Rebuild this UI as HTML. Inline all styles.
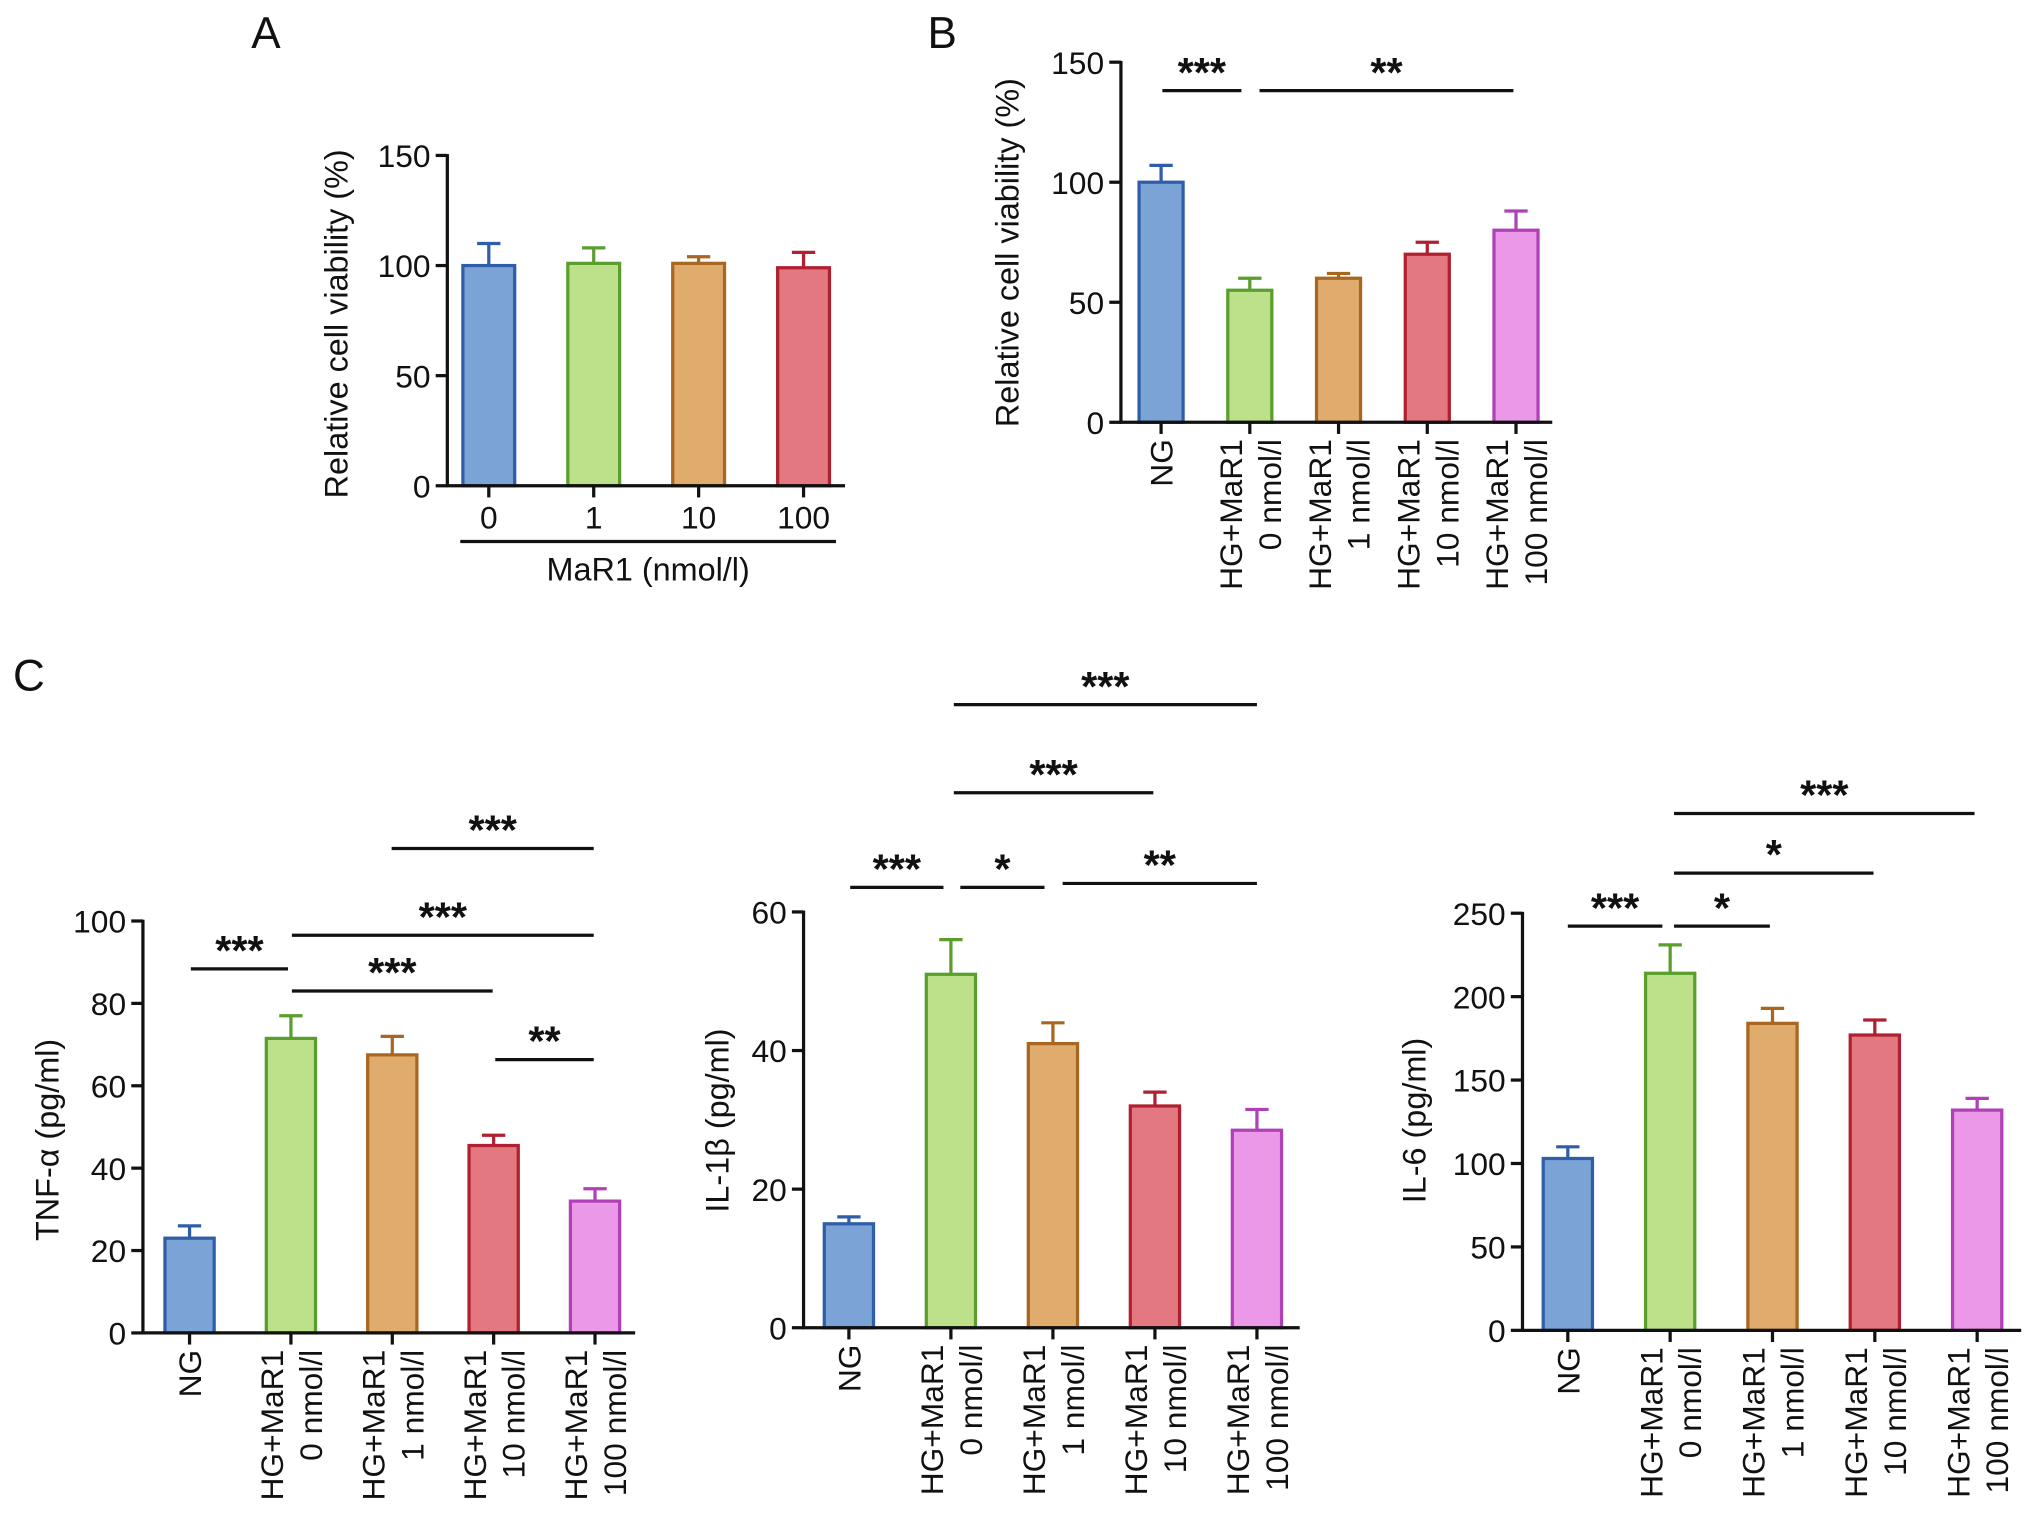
<!DOCTYPE html>
<html><head><meta charset="utf-8"><style>
html,body{margin:0;padding:0;background:#fff}
svg{display:block}
text{font-family:"Liberation Sans",Arial,sans-serif;fill:#111}
</style></head><body>
<svg id="fig" width="2032" height="1535" viewBox="0 0 1568 1185" xmlns="http://www.w3.org/2000/svg">
<text x="205" y="37" font-size="34" text-anchor="middle">A</text>
<text x="727" y="37" font-size="34" text-anchor="middle">B</text>
<text x="22" y="533" font-size="34" text-anchor="middle">C</text>
</svg>
<script>
const fills=['#7ba3d6','#bde08a','#e0ac6e','#e37880','#ec98e8'];
const strokes=['#2f5ea8','#5a9e2c','#a8661e','#b02030','#b040b8'];
const labsB=[['NG'],['HG+MaR1','0 nmol/l'],['HG+MaR1','1 nmol/l'],['HG+MaR1','10 nmol/l'],['HG+MaR1','100 nmol/l']];

const aValues=[100,101,101,99];
const aErr=[110,108,104,106];
const aTicks=[0,50,100,150];
const aCats=['0','1','10','100'];

const bValues=[100,55,60,70,80];
const bErr=[107,60,62,75,88];
const bTicks=[0,50,100,150];

const tnfValues=[23,71.5,67.5,45.5,32];
const tnfErr=[26,77,72,48,35];
const tnfTicks=[0,20,40,60,80,100];

const il1Values=[15,51,41,32,28.5];
const il1Err=[16,56,44,34,31.5];
const il1Ticks=[0,20,40,60];

const il6Values=[103,214,184,177,132];
const il6Err=[110,231,193,186,139];
const il6Ticks=[0,50,100,150,200,250];

const svg=document.getElementById('fig');
const NS='http://www.w3.org/2000/svg';
function el(tag,attrs,parent){const e=document.createElementNS(NS,tag);for(const k in attrs)e.setAttribute(k,attrs[k]);(parent||svg).appendChild(e);return e;}

function panel(p){
  const g=el('g',{});
  
  
  const max=p.ticks[p.ticks.length-1];
  const y=v=>p.y0-(v/max)*(p.y0-p.yTop);
  const n=p.values.length;
  const cx=i=>p.c0+p.step*i;
  for(let i=0;i<n;i++){
    const ex=el('line',{x1:cx(i),x2:cx(i),y1:y(p.values[i]),y2:y(p.err[i]),stroke:strokes[i],'stroke-width':2.5},g);
    
    
    const cap=el('line',{x1:cx(i)-9,x2:cx(i)+9,y1:y(p.err[i]),y2:y(p.err[i]),stroke:strokes[i],'stroke-width':2.5},g);
    
    
    const r=el('rect',{x:cx(i)-p.bw/2,y:y(p.values[i]),width:p.bw,height:p.y0-y(p.values[i]),fill:fills[i],stroke:strokes[i],'stroke-width':2.5},g);
    
    
  }
  const ya=el('line',{x1:p.x0,x2:p.x0,y1:p.y0+1,y2:p.yTop-1,stroke:'#111','stroke-width':2.5},g);
  
  
  const xa=el('line',{x1:p.x0-1,x2:p.xEnd,y1:p.y0,y2:p.y0,stroke:'#111','stroke-width':2.5},g);
  
  
  p.ticks.forEach(t=>{
    el('line',{x1:p.x0-9,x2:p.x0,y1:y(t),y2:y(t),stroke:'#111','stroke-width':2.5},g);
    const tx=el('text',{x:p.x0-13,y:y(t)+9,'font-size':24.5,'text-anchor':'end'},g);
    tx.textContent=t;
    
    
  });
  for(let i=0;i<n;i++){
    el('line',{x1:cx(i),x2:cx(i),y1:p.y0,y2:p.y0+9,stroke:'#111','stroke-width':2.5},g);
    if(p.cats){
      const tx=el('text',{x:cx(i),y:p.y0+33,'font-size':24.5,'text-anchor':'middle'},g);
      tx.textContent=p.cats[i];
      
      
    } else {
      const lines=labsB[i];
      lines.forEach((s,j)=>{
        const off=lines.length===1?0:(j===0?-15:15);
        const xx=cx(i)+off+9, yy=p.y0+13;
        const tx=el('text',{x:xx,y:yy,'font-size':24.5,'text-anchor':'end',transform:`rotate(-90 ${xx} ${yy})`},g);
        tx.textContent=s;
        
        
      });
    }
  }
  const yt=el('text',{x:p.titleX,y:p.titleY,'font-size':25,'text-anchor':'middle',transform:`rotate(-90 ${p.titleX} ${p.titleY})`},g);
  yt.textContent=p.title;
  
  
  (p.sig||[]).forEach(s=>{
    const l=el('line',{x1:s[0],x2:s[1],y1:s[2],y2:s[2],stroke:'#111','stroke-width':2.5},g);
    
    
    const tx=el('text',{x:(s[0]+s[1])/2,y:s[2]-3,'font-size':32,'font-weight':'bold','text-anchor':'middle'},g);
    tx.textContent=s[3];
    
    
  });
}

panel({name:'panel-a-chart',values:aValues,err:aErr,ticks:aTicks,cats:aCats,x0:345,xEnd:652,c0:377,step:81,y0:375,yTop:120,bw:40,title:'Relative cell viability (%)',titleX:268,titleY:250});
const ln=el('line',{x1:355,x2:645,y1:418,y2:418,stroke:'#111','stroke-width':2.5});


const xl=el('text',{x:500,y:448,'font-size':25,'text-anchor':'middle'});
xl.textContent='MaR1 (nmol/l)';



panel({name:'panel-b-chart',values:bValues,err:bErr,ticks:bTicks,x0:865,xEnd:1198,c0:896,step:68.5,y0:326,yTop:48,bw:34,title:'Relative cell viability (%)',titleX:786,titleY:195,
  sig:[[897,958,70,'***'],[972,1168,70,'**']]});

panel({name:'tnf-alpha-chart',values:tnfValues,err:tnfErr,ticks:tnfTicks,x0:110,xEnd:490,c0:146,step:78.25,y0:1029,yTop:711,bw:38,title:'TNF-α (pg/ml)',titleX:45,titleY:880,
  sig:[[147,222,748,'***'],[225,458,722,'***'],[225,380,765,'***'],[302,458,655,'***'],[382,458,818,'**']]});

panel({name:'il-1beta-chart',values:il1Values,err:il1Err,ticks:il1Ticks,x0:620,xEnd:1003,c0:655,step:78.75,y0:1025,yTop:704,bw:38,title:'IL-1β (pg/ml)',titleX:562,titleY:865,
  sig:[[736,970,544,'***'],[736,890,612,'***'],[656,728,685,'***'],[741,806,685,'*'],[820,970,682,'**']]});

panel({name:'il-6-chart',values:il6Values,err:il6Err,ticks:il6Ticks,x0:1175,xEnd:1560,c0:1210,step:79,y0:1027,yTop:705,bw:38,title:'IL-6 (pg/ml)',titleX:1100,titleY:865,
  sig:[[1210,1283,715,'***'],[1292,1366,715,'*'],[1292,1446,674,'*'],[1292,1524,628,'***']]});
</script>
</body></html>
